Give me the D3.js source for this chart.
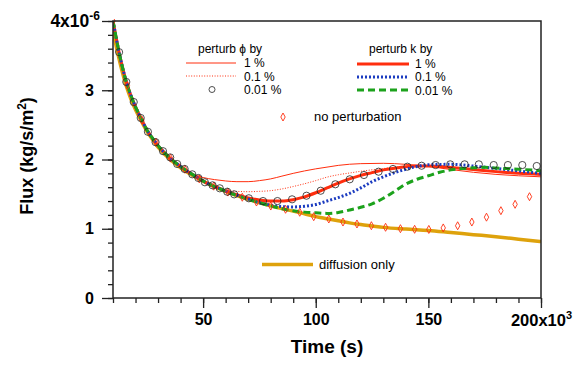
<!DOCTYPE html>
<html>
<head>
<meta charset="utf-8">
<script src="https://cdn.jsdelivr.net/npm/d3@7"></script>
<style>
  body { margin: 0; background: #fff; }
  svg { font-family: "Liberation Sans", Arial, sans-serif; }
</style>
</head>
<body>
<div id="chart"></div>
<script>
// values: time in 1e3 s, flux in 1e-6 kg/s/m2
var commonEarly = [[10,4.0],[11,3.83],[12,3.66],[13,3.5],[14,3.36],[15,3.23],[16,3.11],[18,2.92],[20,2.76],
  [22.5,2.59],[25,2.43],[27.5,2.31],[30,2.2],[32.5,2.11],[35,2.03],[37.5,1.96],[40,1.9],[42.5,1.84],[45,1.79]];

var phi1 = commonEarly.concat([[47.5,1.765],[50,1.74],[55,1.71],[60,1.69],[65,1.68],[70,1.68],[75,1.695],[80,1.72],
  [85,1.76],[90,1.8],[95,1.835],[100,1.865],[105,1.89],[110,1.915],[120,1.94],[130,1.945],[140,1.93],[150,1.9],
  [160,1.855],[170,1.815],[180,1.785],[190,1.765],[200,1.75]]);

var phi01 = commonEarly.concat([[47.5,1.74],[50,1.69],[52.5,1.645],[55,1.61],[57.5,1.58],[60,1.555],[65,1.54],
  [70,1.535],[75,1.54],[80,1.55],[85,1.575],[90,1.61],[95,1.65],[100,1.695],[105,1.745],[110,1.78],[115,1.805],
  [120,1.83],[130,1.87],[140,1.9],[150,1.905],[160,1.885],[170,1.855],[180,1.83],[190,1.81],[200,1.8]]);

var phi001 = [[12.7,3.55],[15.9,3.12],[19.2,2.83],[22.3,2.6],[25.5,2.4],[28.9,2.25],[32.2,2.12],[35.4,2.03],
  [38.5,1.935],[41.8,1.863],[45.2,1.786],[47.9,1.733],[50.8,1.671],[54.2,1.627],[57.4,1.584],[60.7,1.535],
  [63.8,1.497],[70.3,1.44],[76.6,1.4],[83,1.4],[89.5,1.425],[95.9,1.477],[102.2,1.549],[108.7,1.642],
  [115.1,1.714],[121.4,1.776],[127.9,1.824],[134.3,1.863],[140.7,1.896],[147,1.91],[153.2,1.92],[159.7,1.93],
  [166.1,1.93],[172.4,1.93],[179,1.92],[185.3,1.92],[191.7,1.92],[198.1,1.906]];

var k1 = commonEarly.concat([[47.5,1.74],[50,1.69],[52.5,1.645],[55,1.61],[57.5,1.58],[60,1.545],[62.5,1.515],
  [65,1.49],[70,1.445],[75,1.415],[80,1.4],[85,1.4],[90,1.42],[95,1.46],[100,1.52],[105,1.59],[110,1.66],
  [115,1.72],[120,1.77],[125,1.81],[130,1.85],[135,1.875],[140,1.895],[145,1.905],[150,1.905],[160,1.885],
  [170,1.855],[180,1.825],[190,1.8],[200,1.785]]);

var k01 = commonEarly.concat([[47.5,1.74],[50,1.69],[52.5,1.645],[55,1.61],[57.5,1.58],[60,1.545],[62.5,1.515],
  [65,1.485],[70,1.43],[75,1.375],[80,1.34],[85,1.32],[90,1.315],[95,1.325],[100,1.35],[105,1.4],[110,1.45],
  [115,1.51],[120,1.59],[125,1.68],[130,1.75],[135,1.81],[140,1.86],[145,1.9],[150,1.925],[160,1.93],
  [170,1.905],[180,1.87],[190,1.835],[200,1.8]]);

var k001 = commonEarly.concat([[47.5,1.74],[50,1.69],[52.5,1.645],[55,1.61],[57.5,1.575],[60,1.54],[65,1.48],
  [70,1.425],[75,1.375],[80,1.33],[85,1.29],[90,1.26],[95,1.24],[100,1.23],[105,1.222],[110,1.235],[115,1.27],
  [120,1.31],[125,1.36],[130,1.44],[135,1.54],[140,1.645],[145,1.715],[150,1.765],[155,1.815],[160,1.85],
  [165,1.87],[170,1.88],[175,1.887],[180,1.877],[190,1.86],[200,1.838]]);

var noPerturb = [[10,4.0],[16.4,3.07],[22.8,2.57],[29.1,2.25],[35.5,2.02],[41.9,1.86],[48.3,1.72],[54.7,1.615],
  [61,1.53],[67.4,1.455],[73.7,1.386],[80.05,1.328],[86.6,1.281],[92.9,1.238],[99.1,1.174],[105.8,1.141],
  [112.1,1.097],[118.3,1.069],[124.7,1.044],[131,1.021],[137.6,1.001],[143.9,0.992],[150.2,0.99],[156.6,1.012],
  [163,1.043],[169.3,1.097],[175.8,1.167],[182.2,1.261],[188.5,1.353],[194.9,1.463]];

var diffusion = [[10,3.88],[11,3.7],[12,3.55],[13,3.41],[14,3.28],[15,3.16],[16,3.05],[18,2.87],[20,2.72],
  [22.5,2.56],[25,2.41],[27.5,2.29],[30,2.18],[35,2.01],[40,1.88],[45,1.775],[50,1.685],[55,1.61],[60,1.54],
  [65,1.48],[70,1.425],[75,1.375],[80,1.33],[85,1.29],[90,1.255],[95,1.215],[100,1.175],[105,1.145],[110,1.115],
  [115,1.085],[120,1.06],[125,1.04],[130,1.02],[140,0.995],[150,0.975],[160,0.945],[170,0.915],[180,0.885],
  [190,0.85],[200,0.815]];

var xMajorTicks = [50, 100, 150, 200];
var xMinorTicks = d3.range(10, 201, 10);
var yMajorTicks = [0, 1, 2, 3, 4];
var yMinorTicks = d3.range(0, 4.01, 0.2);

var red = '#ff2e0e', blue = '#1c3cc0', green = '#1ca21c', gold = '#dea20c';

var svg = d3.select('#chart').append('svg')
  .attr('width', 576)
  .attr('height', 366);

var x = d3.scaleLinear().domain([10, 200]).range([113, 541]);
var y = d3.scaleLinear().domain([0, 4]).range([298, 21]);

svg.append('clipPath').attr('id', 'plot')
  .append('rect').attr('x', 113).attr('y', 19).attr('width', 428).attr('height', 279);

var line = d3.line()
  .x(function(d) { return x(d[0]); })
  .y(function(d) { return y(d[1]); })
  .curve(d3.curveMonotoneX);

var g = svg.append('g').attr('clip-path', 'url(#plot)');

// order matters: gold at the back, markers on top
var series = [
  { data: diffusion, color: gold, width: 3.5, dash: null },
  { data: phi1, color: red, width: 1, dash: null },
  { data: phi01, color: red, width: 1, dash: '1,1.6' },
  { data: k1, color: red, width: 3, dash: null },
  { data: k01, color: blue, width: 3, dash: '2,2' },
  { data: k001, color: green, width: 3, dash: '7,4' }
];

series.forEach(function(s) {
  g.append('path')
    .attr('d', line(s.data))
    .attr('fill', 'none')
    .attr('stroke', s.color)
    .attr('stroke-width', s.width)
    .attr('stroke-dasharray', s.dash);
});

var diamond = 'M0,-4L2.2,0L0,4L-2.2,0Z';

g.selectAll('.np').data(noPerturb).enter().append('path')
  .attr('class', 'np')
  .attr('d', diamond)
  .attr('transform', function(d) { return 'translate(' + x(d[0]) + ',' + y(d[1]) + ')'; })
  .attr('fill', 'none')
  .attr('stroke', red)
  .attr('stroke-width', 0.9);

g.selectAll('.circ').data(phi001).enter().append('circle')
  .attr('class', 'circ')
  .attr('cx', function(d) { return x(d[0]); })
  .attr('cy', function(d) { return y(d[1]); })
  .attr('r', 3.6)
  .attr('fill', 'none')
  .attr('stroke', '#222')
  .attr('stroke-width', 0.8);

// frame
svg.append('rect')
  .attr('x', 113).attr('y', 21).attr('width', 428).attr('height', 277)
  .attr('fill', 'none').attr('stroke', '#222').attr('stroke-width', 1.5);

// axes
var xMinor = svg.append('g').attr('transform', 'translate(0,298)')
  .call(d3.axisBottom(x).tickValues(xMinorTicks).tickSize(5).tickFormat(''));
var xMajor = svg.append('g').attr('transform', 'translate(0,298)')
  .call(d3.axisBottom(x).tickValues(xMajorTicks).tickSize(10).tickPadding(6)
    .tickFormat(function(d) { return d; }));
var yMinor = svg.append('g').attr('transform', 'translate(113,0)')
  .call(d3.axisLeft(y).tickValues(yMinorTicks).tickSize(5).tickFormat(''));
var yMajor = svg.append('g').attr('transform', 'translate(113,0)')
  .call(d3.axisLeft(y).tickValues(yMajorTicks).tickSize(11).tickPadding(8)
    .tickFormat(function(d) { return d; }));

[xMinor, xMajor, yMinor, yMajor].forEach(function(a) {
  a.select('.domain').remove();
  a.selectAll('line').attr('stroke', '#222').attr('stroke-width', 1.3);
  a.selectAll('text').attr('fill', '#000').attr('font-size', 16).attr('font-weight', 'bold')
    .attr('font-family', '"Liberation Sans", Arial, sans-serif');
});

// exponent labels
xMajor.selectAll('text').filter(function(d) { return d === 200; })
  .text(null)
  .attr('font-size', 16.5)
  .call(function(t) {
    t.append('tspan').text('200x10');
    t.append('tspan').attr('dy', -7).attr('font-size', 11).text('3');
  });

yMajor.selectAll('text').filter(function(d) { return d === 4; })
  .text(null)
  .attr('x', -13)
  .attr('font-size', 17.5)
  .call(function(t) {
    t.append('tspan').text('4x10');
    t.append('tspan').attr('dy', -7).attr('font-size', 12).text('-6');
  });

svg.append('text')
  .attr('x', 327).attr('y', 353)
  .attr('text-anchor', 'middle')
  .attr('font-size', 19).attr('font-weight', 'bold')
  .text('Time (s)');

var yl = svg.append('text')
  .attr('transform', 'translate(33,156) rotate(-90)')
  .attr('text-anchor', 'middle')
  .attr('font-size', 18).attr('font-weight', 'bold');
yl.append('tspan').text('Flux (kg/s/m');
yl.append('tspan').attr('dy', -7).attr('font-size', 12).text('2');
yl.append('tspan').attr('dy', 7).text(')');

// legends
var leg = svg.append('g').attr('font-size', 12).attr('fill', '#000');

leg.append('text').attr('x', 198).attr('y', 53).text('perturb \u03D5 by');
leg.append('line').attr('x1', 186).attr('x2', 236).attr('y1', 63).attr('y2', 63)
  .attr('stroke', red).attr('stroke-width', 1);
leg.append('text').attr('x', 244).attr('y', 67).text('1 %');
leg.append('line').attr('x1', 186).attr('x2', 236).attr('y1', 76).attr('y2', 76)
  .attr('stroke', red).attr('stroke-width', 1).attr('stroke-dasharray', '1,1.6');
leg.append('text').attr('x', 244).attr('y', 80.5).text('0.1 %');
leg.append('circle').attr('cx', 212).attr('cy', 89.5).attr('r', 3)
  .attr('fill', 'none').attr('stroke', '#222').attr('stroke-width', 0.8);
leg.append('text').attr('x', 244).attr('y', 94).text('0.01 %');

leg.append('text').attr('x', 369).attr('y', 53).text('perturb k by');
leg.append('line').attr('x1', 357).attr('x2', 409).attr('y1', 64).attr('y2', 64)
  .attr('stroke', red).attr('stroke-width', 3);
leg.append('text').attr('x', 415).attr('y', 67.5).text('1 %');
leg.append('line').attr('x1', 357).attr('x2', 409).attr('y1', 77).attr('y2', 77)
  .attr('stroke', blue).attr('stroke-width', 3).attr('stroke-dasharray', '2,2');
leg.append('text').attr('x', 415).attr('y', 81).text('0.1 %');
leg.append('line').attr('x1', 357).attr('x2', 409).attr('y1', 90).attr('y2', 90)
  .attr('stroke', green).attr('stroke-width', 3).attr('stroke-dasharray', '7,4');
leg.append('text').attr('x', 415).attr('y', 94.5).text('0.01 %');

leg.append('path').attr('d', diamond).attr('transform', 'translate(283,117)')
  .attr('fill', 'none').attr('stroke', red).attr('stroke-width', 0.9);
leg.append('text').attr('x', 314).attr('y', 121).attr('font-size', 13).text('no perturbation');

leg.append('line').attr('x1', 262).attr('x2', 313).attr('y1', 264.5).attr('y2', 264.5)
  .attr('stroke', gold).attr('stroke-width', 3.5);
leg.append('text').attr('x', 319).attr('y', 269).attr('font-size', 13).text('diffusion only');
</script>
</body>
</html>
